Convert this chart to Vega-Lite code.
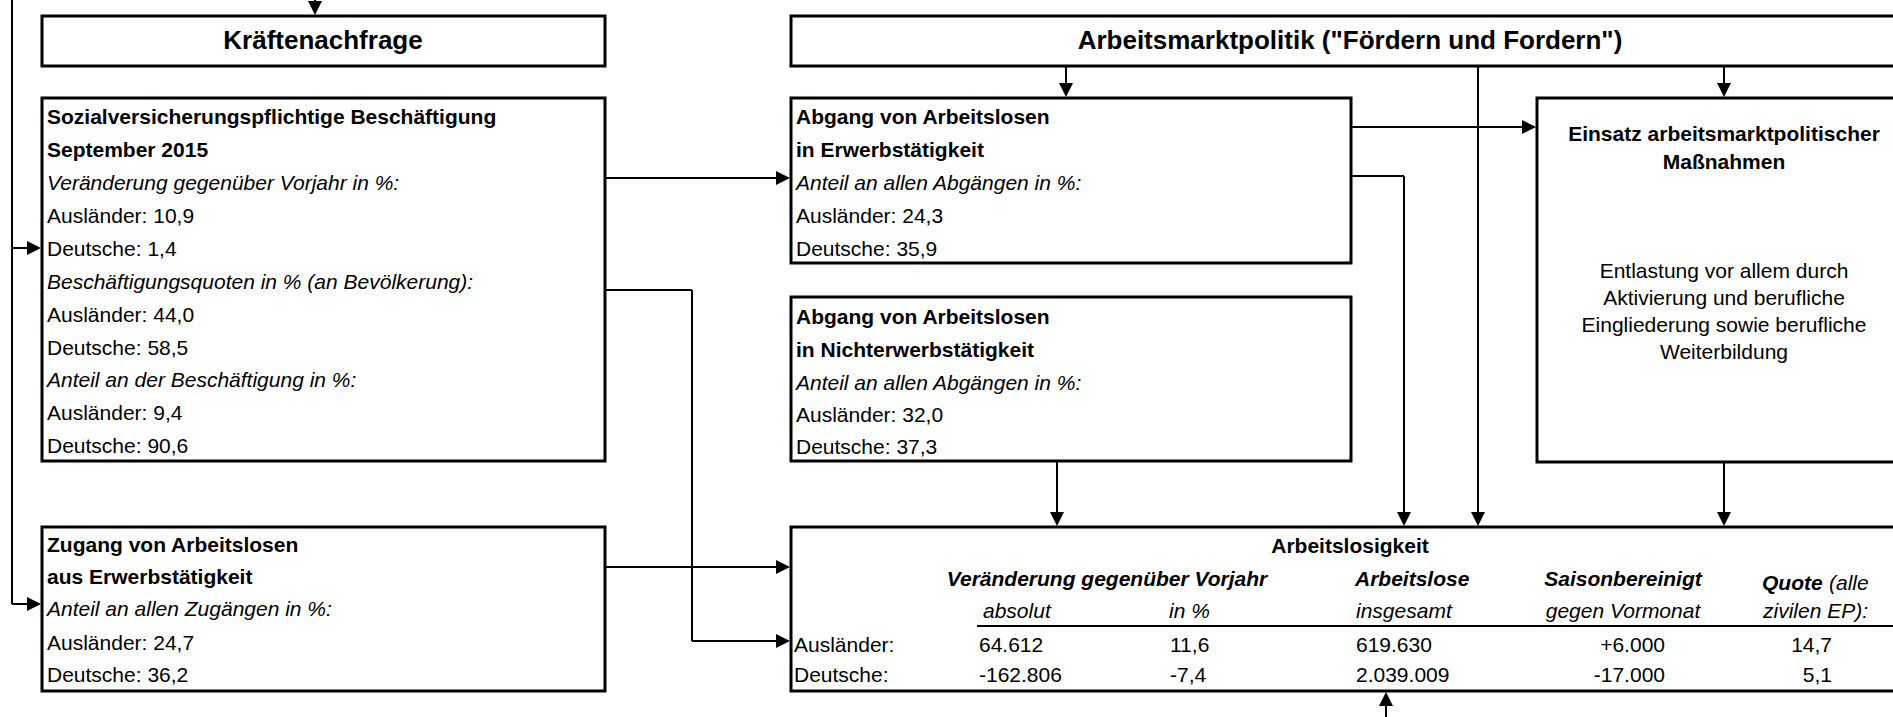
{
  "$schema": "https://vega.github.io/schema/vega-lite/v6.json",
  "width": 1893,
  "height": 717,
  "autosize": {"type": "fit", "contains": "padding"},
  "padding": 0,
  "background": "white",
  "config": {"view": {"stroke": null}, "font": "Liberation Sans"},
  "datasets": {
    "boxes": [
      {"name": "Kräftenachfrage", "x": 42, "x2": 605, "y": 16, "y2": 66},
      {"name": "Arbeitsmarktpolitik", "x": 791, "x2": 1897, "y": 16, "y2": 66},
      {"name": "Beschäftigung", "x": 42, "x2": 605, "y": 98, "y2": 461},
      {"name": "Zugang", "x": 42, "x2": 605, "y": 527, "y2": 691},
      {"name": "Abgang Erwerb", "x": 791, "x2": 1351, "y": 98, "y2": 263},
      {"name": "Abgang Nichterwerb", "x": 791, "x2": 1351, "y": 297, "y2": 461},
      {"name": "Einsatz", "x": 1537, "x2": 1897, "y": 98, "y2": 462},
      {"name": "Arbeitslosigkeit", "x": 791, "x2": 1897, "y": 527, "y2": 691}
    ],
    "lines": [
      {"x": 12, "x2": 12, "y": 0, "y2": 604},
      {"x": 12, "x2": 33, "y": 248, "y2": 248},
      {"x": 12, "x2": 33, "y": 604, "y2": 604},
      {"x": 315, "x2": 315, "y": 0, "y2": 6},
      {"x": 605, "x2": 781, "y": 178, "y2": 178},
      {"x": 605, "x2": 692, "y": 290, "y2": 290},
      {"x": 692, "x2": 692, "y": 290, "y2": 641},
      {"x": 692, "x2": 781, "y": 641, "y2": 641},
      {"x": 605, "x2": 781, "y": 567, "y2": 567},
      {"x": 1066, "x2": 1066, "y": 66, "y2": 88},
      {"x": 1724, "x2": 1724, "y": 66, "y2": 88},
      {"x": 1478, "x2": 1478, "y": 66, "y2": 517},
      {"x": 1351, "x2": 1527, "y": 127, "y2": 127},
      {"x": 1351, "x2": 1404, "y": 176, "y2": 176},
      {"x": 1404, "x2": 1404, "y": 176, "y2": 517},
      {"x": 1057, "x2": 1057, "y": 462, "y2": 517},
      {"x": 1724, "x2": 1724, "y": 462, "y2": 517},
      {"x": 1386, "x2": 1386, "y": 717, "y2": 701},
      {"x": 977, "x2": 1897, "y": 626, "y2": 626}
    ],
    "arrows": [
      {"x": 41, "y": 248, "dir": "right"},
      {"x": 41, "y": 604, "dir": "right"},
      {"x": 315, "y": 15, "dir": "down"},
      {"x": 790, "y": 178, "dir": "right"},
      {"x": 790, "y": 641, "dir": "right"},
      {"x": 790, "y": 567, "dir": "right"},
      {"x": 1066, "y": 97, "dir": "down"},
      {"x": 1724, "y": 97, "dir": "down"},
      {"x": 1478, "y": 526, "dir": "down"},
      {"x": 1536, "y": 127, "dir": "right"},
      {"x": 1404, "y": 526, "dir": "down"},
      {"x": 1057, "y": 526, "dir": "down"},
      {"x": 1724, "y": 526, "dir": "down"},
      {"x": 1386, "y": 692, "dir": "up"}
    ],
    "texts": [
      {"x": 323, "y": 41, "role": "title", "text": "Kräftenachfrage"},
      {"x": 1350, "y": 41, "role": "title", "text": "Arbeitsmarktpolitik (\"Fördern und Fordern\")"},
      {"x": 47, "y": 118, "role": "head", "text": "Sozialversicherungspflichtige Beschäftigung"},
      {"x": 47, "y": 151, "role": "head", "text": "September 2015"},
      {"x": 47, "y": 184, "role": "sub", "text": "Veränderung gegenüber Vorjahr in %:"},
      {"x": 47, "y": 217, "role": "val", "text": "Ausländer: 10,9"},
      {"x": 47, "y": 250, "role": "val", "text": "Deutsche: 1,4"},
      {"x": 47, "y": 283, "role": "sub", "text": "Beschäftigungsquoten in % (an Bevölkerung):"},
      {"x": 47, "y": 316, "role": "val", "text": "Ausländer: 44,0"},
      {"x": 47, "y": 349, "role": "val", "text": "Deutsche: 58,5"},
      {"x": 47, "y": 381, "role": "sub", "text": "Anteil an der Beschäftigung in %:"},
      {"x": 47, "y": 414, "role": "val", "text": "Ausländer: 9,4"},
      {"x": 47, "y": 447, "role": "val", "text": "Deutsche: 90,6"},
      {"x": 47, "y": 546, "role": "head", "text": "Zugang von Arbeitslosen"},
      {"x": 47, "y": 578, "role": "head", "text": "aus Erwerbstätigkeit"},
      {"x": 47, "y": 610, "role": "sub", "text": "Anteil an allen Zugängen in %:"},
      {"x": 47, "y": 644, "role": "val", "text": "Ausländer: 24,7"},
      {"x": 47, "y": 676, "role": "val", "text": "Deutsche: 36,2"},
      {"x": 796, "y": 118, "role": "head", "text": "Abgang von Arbeitslosen"},
      {"x": 796, "y": 151, "role": "head", "text": "in Erwerbstätigkeit"},
      {"x": 796, "y": 184, "role": "sub", "text": "Anteil an allen Abgängen in %:"},
      {"x": 796, "y": 217, "role": "val", "text": "Ausländer: 24,3"},
      {"x": 796, "y": 250, "role": "val", "text": "Deutsche: 35,9"},
      {"x": 796, "y": 318, "role": "head", "text": "Abgang von Arbeitslosen"},
      {"x": 796, "y": 351, "role": "head", "text": "in Nichterwerbstätigkeit"},
      {"x": 796, "y": 384, "role": "sub", "text": "Anteil an allen Abgängen in %:"},
      {"x": 796, "y": 416, "role": "val", "text": "Ausländer: 32,0"},
      {"x": 796, "y": 448, "role": "val", "text": "Deutsche: 37,3"},
      {"x": 1724, "y": 135, "role": "headc", "text": "Einsatz arbeitsmarktpolitischer"},
      {"x": 1724, "y": 163, "role": "headc", "text": "Maßnahmen"},
      {"x": 1724, "y": 272, "role": "valc", "text": "Entlastung vor allem durch"},
      {"x": 1724, "y": 299, "role": "valc", "text": "Aktivierung und berufliche"},
      {"x": 1724, "y": 326, "role": "valc", "text": "Eingliederung sowie berufliche"},
      {"x": 1724, "y": 353, "role": "valc", "text": "Weiterbildung"},
      {"x": 1350, "y": 547, "role": "headc", "text": "Arbeitslosigkeit"},
      {"x": 1107, "y": 580, "role": "colc", "text": "Veränderung gegenüber Vorjahr"},
      {"x": 1355, "y": 580, "role": "col", "text": "Arbeitslose"},
      {"x": 1623, "y": 580, "role": "colc", "text": "Saisonbereinigt"},
      {"x": 1762, "y": 584, "role": "col", "text": "Quote"},
      {"x": 1829, "y": 584, "role": "sub", "text": "(alle"},
      {"x": 983, "y": 612, "role": "sub", "text": "absolut"},
      {"x": 1169, "y": 612, "role": "sub", "text": "in %"},
      {"x": 1356, "y": 612, "role": "sub", "text": "insgesamt"},
      {"x": 1623, "y": 612, "role": "subc", "text": "gegen Vormonat"},
      {"x": 1763, "y": 612, "role": "sub", "text": "zivilen EP):"},
      {"x": 794, "y": 646, "role": "val", "text": "Ausländer:"},
      {"x": 979, "y": 646, "role": "val", "text": "64.612"},
      {"x": 1170, "y": 646, "role": "val", "text": "11,6"},
      {"x": 1356, "y": 646, "role": "val", "text": "619.630"},
      {"x": 1665, "y": 646, "role": "valr", "text": "+6.000"},
      {"x": 1832, "y": 646, "role": "valr", "text": "14,7"},
      {"x": 794, "y": 676, "role": "val", "text": "Deutsche:"},
      {"x": 979, "y": 676, "role": "val", "text": "-162.806"},
      {"x": 1170, "y": 676, "role": "val", "text": "-7,4"},
      {"x": 1356, "y": 676, "role": "val", "text": "2.039.009"},
      {"x": 1665, "y": 676, "role": "valr", "text": "-17.000"},
      {"x": 1832, "y": 676, "role": "valr", "text": "5,1"}
    ]
  },
  "layer": [
    {
      "data": {"name": "boxes"},
      "mark": {"type": "rect", "fill": "white", "stroke": "black", "strokeWidth": 3, "clip": true},
      "encoding": {
        "x": {"field": "x", "type": "quantitative", "scale": {"domain": [0, 1893], "nice": false, "zero": false}, "axis": null},
        "x2": {"field": "x2"},
        "y": {"field": "y", "type": "quantitative", "scale": {"domain": [0, 717], "nice": false, "zero": false, "reverse": true}, "axis": null},
        "y2": {"field": "y2"}
      }
    },
    {
      "data": {"name": "lines"},
      "mark": {"type": "rule", "color": "black", "strokeWidth": 2, "clip": true},
      "encoding": {
        "x": {"field": "x", "type": "quantitative", "scale": {"domain": [0, 1893], "nice": false, "zero": false}, "axis": null},
        "x2": {"field": "x2"},
        "y": {"field": "y", "type": "quantitative", "scale": {"domain": [0, 717], "nice": false, "zero": false, "reverse": true}, "axis": null},
        "y2": {"field": "y2"}
      }
    },
    {
      "data": {"name": "arrows"},
      "mark": {"type": "point", "filled": true, "opacity": 1, "color": "black", "size": 196, "strokeWidth": 0},
      "encoding": {
        "x": {"field": "x", "type": "quantitative", "scale": {"domain": [0, 1893], "nice": false, "zero": false}, "axis": null},
        "y": {"field": "y", "type": "quantitative", "scale": {"domain": [0, 717], "nice": false, "zero": false, "reverse": true}, "axis": null},
        "shape": {"field": "dir", "type": "nominal", "legend": null, "scale": {"domain": ["down", "right", "up"], "range": ["M-1,-2L1,-2L0,0Z", "M-2,-1L0,0L-2,1Z", "M-1,2L1,2L0,0Z"]}}
      }
    },
    {
      "data": {"name": "texts"},
      "transform": [{"filter": "datum.role === 'title'"}],
      "mark": {"type": "text", "font": "Liberation Sans", "fontSize": 26, "fontWeight": "bold", "align": "center", "baseline": "middle", "color": "black"},
      "encoding": {
        "x": {"field": "x", "type": "quantitative", "scale": {"domain": [0, 1893], "nice": false, "zero": false}, "axis": null},
        "y": {"field": "y", "type": "quantitative", "scale": {"domain": [0, 717], "nice": false, "zero": false, "reverse": true}, "axis": null},
        "text": {"field": "text"}
      }
    },
    {
      "data": {"name": "texts"},
      "transform": [{"filter": "datum.role === 'head'"}],
      "mark": {"type": "text", "font": "Liberation Sans", "fontSize": 21, "fontWeight": "bold", "align": "left", "baseline": "middle", "color": "black"},
      "encoding": {
        "x": {"field": "x", "type": "quantitative", "scale": {"domain": [0, 1893], "nice": false, "zero": false}, "axis": null},
        "y": {"field": "y", "type": "quantitative", "scale": {"domain": [0, 717], "nice": false, "zero": false, "reverse": true}, "axis": null},
        "text": {"field": "text"}
      }
    },
    {
      "data": {"name": "texts"},
      "transform": [{"filter": "datum.role === 'headc'"}],
      "mark": {"type": "text", "font": "Liberation Sans", "fontSize": 21, "fontWeight": "bold", "align": "center", "baseline": "middle", "color": "black"},
      "encoding": {
        "x": {"field": "x", "type": "quantitative", "scale": {"domain": [0, 1893], "nice": false, "zero": false}, "axis": null},
        "y": {"field": "y", "type": "quantitative", "scale": {"domain": [0, 717], "nice": false, "zero": false, "reverse": true}, "axis": null},
        "text": {"field": "text"}
      }
    },
    {
      "data": {"name": "texts"},
      "transform": [{"filter": "datum.role === 'sub'"}],
      "mark": {"type": "text", "font": "Liberation Sans", "fontSize": 21, "fontStyle": "italic", "align": "left", "baseline": "middle", "color": "black"},
      "encoding": {
        "x": {"field": "x", "type": "quantitative", "scale": {"domain": [0, 1893], "nice": false, "zero": false}, "axis": null},
        "y": {"field": "y", "type": "quantitative", "scale": {"domain": [0, 717], "nice": false, "zero": false, "reverse": true}, "axis": null},
        "text": {"field": "text"}
      }
    },
    {
      "data": {"name": "texts"},
      "transform": [{"filter": "datum.role === 'subc'"}],
      "mark": {"type": "text", "font": "Liberation Sans", "fontSize": 21, "fontStyle": "italic", "align": "center", "baseline": "middle", "color": "black"},
      "encoding": {
        "x": {"field": "x", "type": "quantitative", "scale": {"domain": [0, 1893], "nice": false, "zero": false}, "axis": null},
        "y": {"field": "y", "type": "quantitative", "scale": {"domain": [0, 717], "nice": false, "zero": false, "reverse": true}, "axis": null},
        "text": {"field": "text"}
      }
    },
    {
      "data": {"name": "texts"},
      "transform": [{"filter": "datum.role === 'col'"}],
      "mark": {"type": "text", "font": "Liberation Sans", "fontSize": 21, "fontStyle": "italic", "fontWeight": "bold", "align": "left", "baseline": "middle", "color": "black"},
      "encoding": {
        "x": {"field": "x", "type": "quantitative", "scale": {"domain": [0, 1893], "nice": false, "zero": false}, "axis": null},
        "y": {"field": "y", "type": "quantitative", "scale": {"domain": [0, 717], "nice": false, "zero": false, "reverse": true}, "axis": null},
        "text": {"field": "text"}
      }
    },
    {
      "data": {"name": "texts"},
      "transform": [{"filter": "datum.role === 'colc'"}],
      "mark": {"type": "text", "font": "Liberation Sans", "fontSize": 21, "fontStyle": "italic", "fontWeight": "bold", "align": "center", "baseline": "middle", "color": "black"},
      "encoding": {
        "x": {"field": "x", "type": "quantitative", "scale": {"domain": [0, 1893], "nice": false, "zero": false}, "axis": null},
        "y": {"field": "y", "type": "quantitative", "scale": {"domain": [0, 717], "nice": false, "zero": false, "reverse": true}, "axis": null},
        "text": {"field": "text"}
      }
    },
    {
      "data": {"name": "texts"},
      "transform": [{"filter": "datum.role === 'val'"}],
      "mark": {"type": "text", "font": "Liberation Sans", "fontSize": 21, "align": "left", "baseline": "middle", "color": "black"},
      "encoding": {
        "x": {"field": "x", "type": "quantitative", "scale": {"domain": [0, 1893], "nice": false, "zero": false}, "axis": null},
        "y": {"field": "y", "type": "quantitative", "scale": {"domain": [0, 717], "nice": false, "zero": false, "reverse": true}, "axis": null},
        "text": {"field": "text"}
      }
    },
    {
      "data": {"name": "texts"},
      "transform": [{"filter": "datum.role === 'valc'"}],
      "mark": {"type": "text", "font": "Liberation Sans", "fontSize": 21, "align": "center", "baseline": "middle", "color": "black"},
      "encoding": {
        "x": {"field": "x", "type": "quantitative", "scale": {"domain": [0, 1893], "nice": false, "zero": false}, "axis": null},
        "y": {"field": "y", "type": "quantitative", "scale": {"domain": [0, 717], "nice": false, "zero": false, "reverse": true}, "axis": null},
        "text": {"field": "text"}
      }
    },
    {
      "data": {"name": "texts"},
      "transform": [{"filter": "datum.role === 'valr'"}],
      "mark": {"type": "text", "font": "Liberation Sans", "fontSize": 21, "align": "right", "baseline": "middle", "color": "black"},
      "encoding": {
        "x": {"field": "x", "type": "quantitative", "scale": {"domain": [0, 1893], "nice": false, "zero": false}, "axis": null},
        "y": {"field": "y", "type": "quantitative", "scale": {"domain": [0, 717], "nice": false, "zero": false, "reverse": true}, "axis": null},
        "text": {"field": "text"}
      }
    }
  ]
}
